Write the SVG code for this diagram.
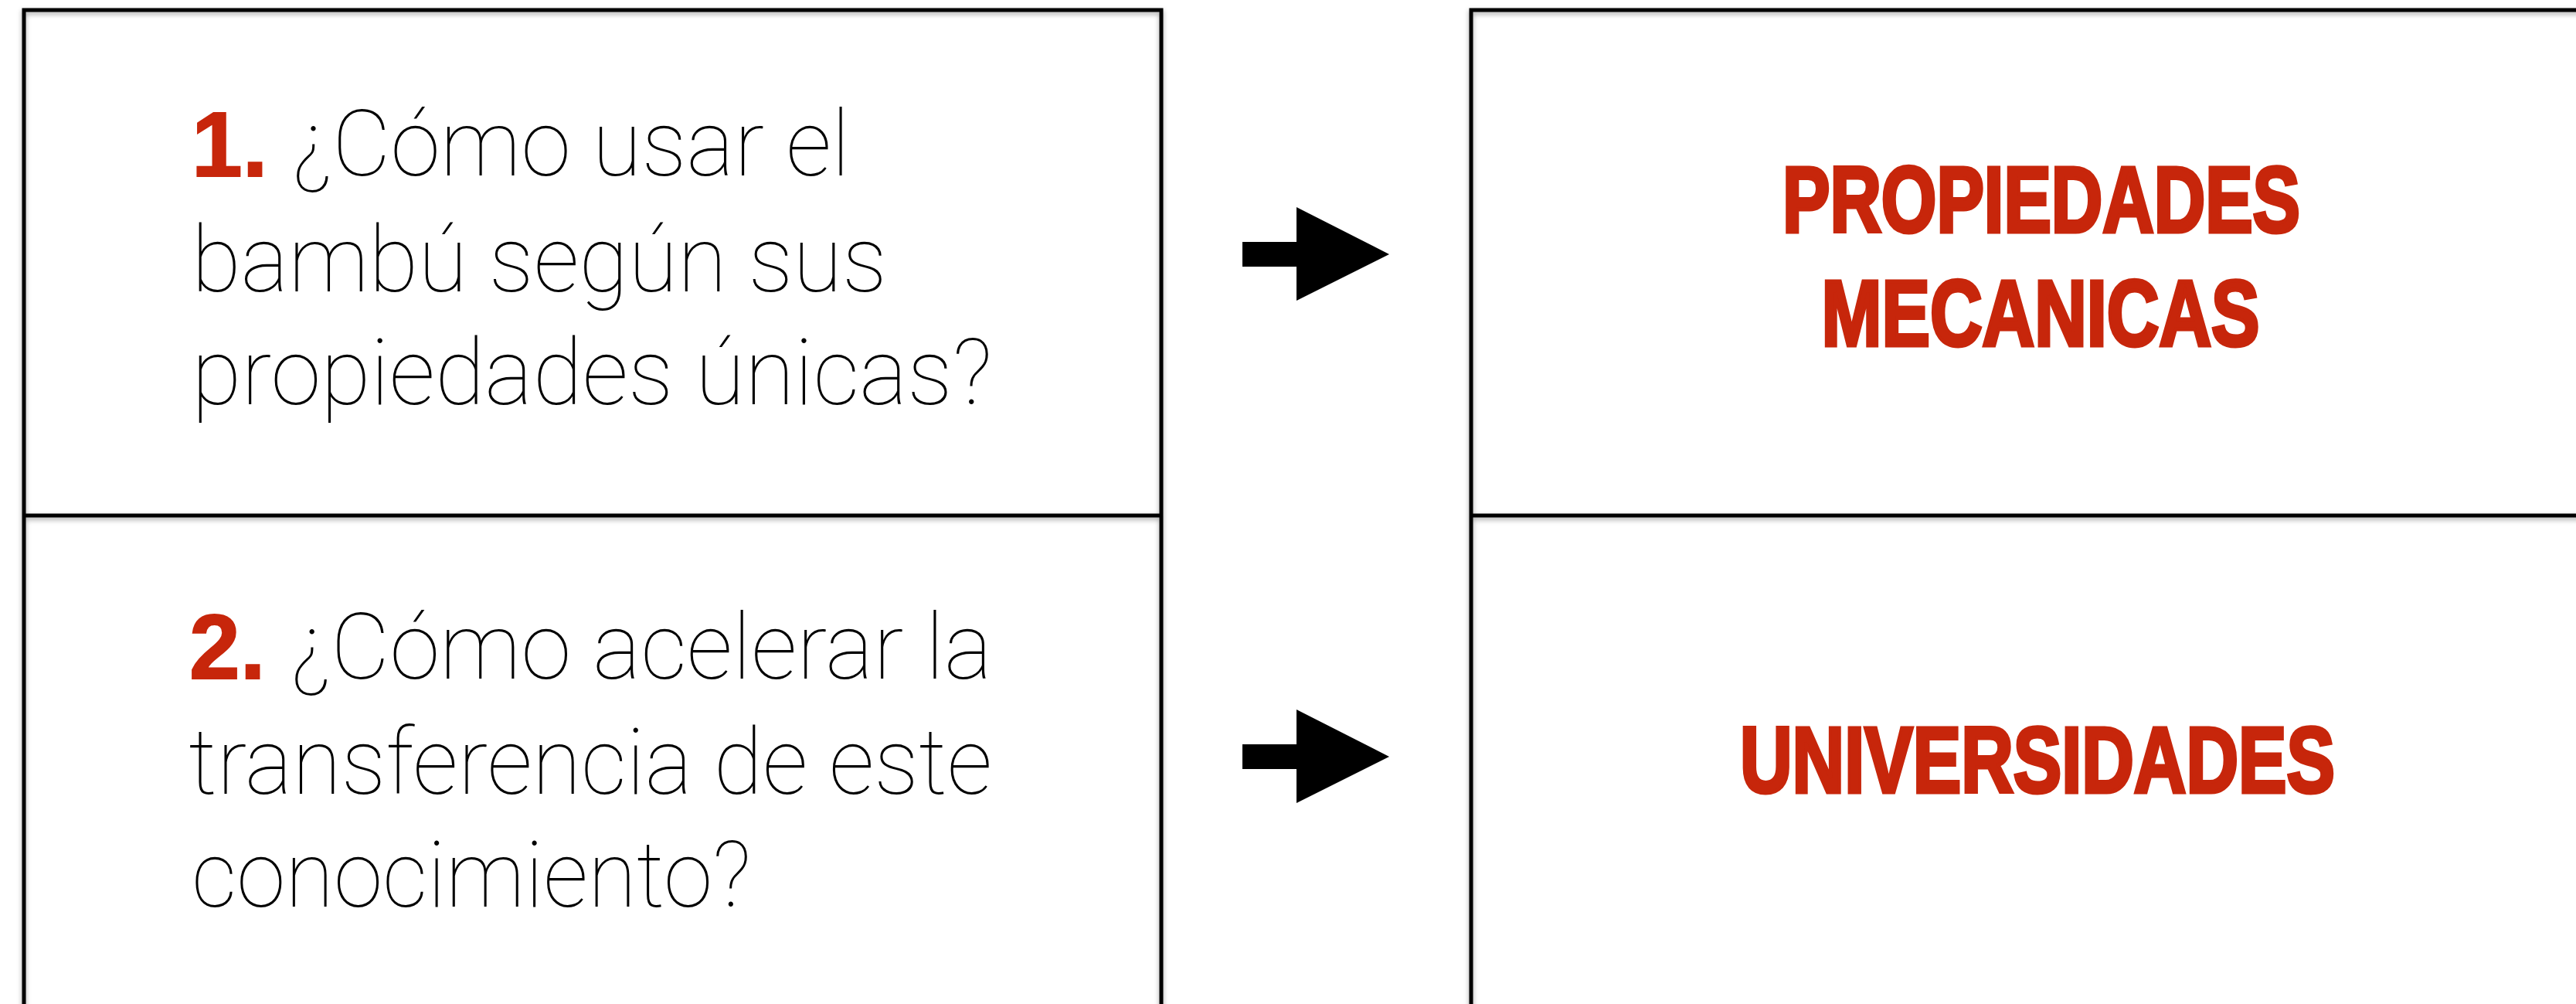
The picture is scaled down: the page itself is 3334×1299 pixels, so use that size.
<svg xmlns="http://www.w3.org/2000/svg" width="3334" height="1299" viewBox="0 0 3334 1299">
  <defs>
    <filter id="shadow" x="-5%" y="-5%" width="110%" height="110%">
      <feDropShadow dx="0" dy="3" stdDeviation="3" flood-color="#000" flood-opacity="0.35"/>
    </filter>
    <style>
      .frame { fill: none; stroke: #000; stroke-width: 5; }
      .num { font-family: "Liberation Sans", Arial, sans-serif; font-weight: 700; font-size: 118px; fill: #C7260B; stroke: #C7260B; stroke-width: 2; }
      .q { font-family: Roboto, Lato, "Noto Sans", sans-serif; font-weight: 100; font-size: 119px; fill: #000; }
      .ans { font-family: "Liberation Sans Narrow", "Liberation Sans", Arial, sans-serif; font-weight: 700; font-size: 121px; fill: #C7260B; stroke: #C7260B; stroke-width: 5; stroke-linejoin: miter; text-anchor: middle; }
      .arrow { fill: #000; }
    </style>
  </defs>
  <rect width="3334" height="1299" fill="#fff"/>

  <g id="panel-left" filter="url(#shadow)">
    <rect class="frame" x="31" y="13" width="1472" height="1400"/>
    <line class="frame" x1="31" y1="667" x2="1503" y2="667"/>
  </g>
  <g id="panel-right" filter="url(#shadow)">
    <rect class="frame" x="1904" y="13" width="1500" height="1400"/>
    <line class="frame" x1="1904" y1="667" x2="3404" y2="667"/>
  </g>

  <g id="node-q1">
    <text class="num" x="248" y="228">1.</text>
    <text class="q" x="378" y="227" textLength="722" lengthAdjust="spacingAndGlyphs">¿Cómo usar el</text>
    <text class="q" x="248" y="377" textLength="900" lengthAdjust="spacingAndGlyphs">bambú según sus</text>
    <text class="q" x="248" y="523" textLength="1036" lengthAdjust="spacingAndGlyphs">propiedades únicas?</text>
  </g>

  <g id="node-q2">
    <text class="num" x="245" y="878">2.</text>
    <text class="q" x="376" y="878" textLength="908" lengthAdjust="spacingAndGlyphs">¿Cómo acelerar la</text>
    <text class="q" x="244" y="1027" textLength="1040" lengthAdjust="spacingAndGlyphs">transferencia de este</text>
    <text class="q" x="248" y="1173" textLength="724" lengthAdjust="spacingAndGlyphs">conocimiento?</text>
  </g>

  <g id="node-a1">
    <text class="ans" x="2642" y="300" textLength="670" lengthAdjust="spacingAndGlyphs">PROPIEDADES</text>
    <text class="ans" x="2641" y="447" textLength="567" lengthAdjust="spacingAndGlyphs">MECANICAS</text>
  </g>

  <g id="node-a2">
    <text class="ans" x="2637" y="1025" textLength="770" lengthAdjust="spacingAndGlyphs">UNIVERSIDADES</text>
  </g>

  <g id="connectors">
    <polygon class="arrow" points="1608,313 1678,313 1678,268 1798,329 1678,389 1678,345 1608,345"/>
    <polygon class="arrow" points="1608,963 1678,963 1678,918 1798,979 1678,1039 1678,995 1608,995"/>
  </g>
</svg>
